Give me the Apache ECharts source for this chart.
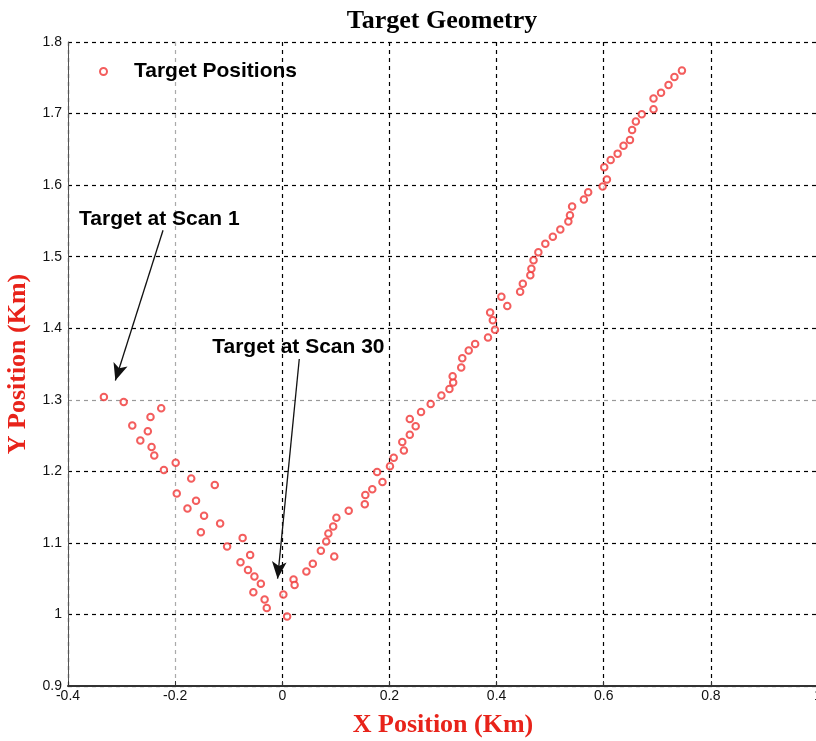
<!DOCTYPE html>
<html>
<head>
<meta charset="utf-8">
<script src="https://cdn.jsdelivr.net/npm/echarts@6/dist/echarts.min.js"></script>
<style>
  html, body { margin: 0; padding: 0; background: #fff; }
  #chart { width: 816px; height: 741px; }
</style>
</head>
<body>
<div id="chart"></div>
<script>
// Target track, X positions (Km)
const targetX = [
  -0.333, -0.296, -0.226, -0.246, -0.280, -0.251, -0.265, -0.244, -0.239, -0.221,
  -0.199, -0.170, -0.126, -0.197, -0.161, -0.177, -0.146, -0.116, -0.152, -0.074,
  -0.103, -0.060, -0.078, -0.064, -0.052, -0.040, -0.054, -0.033, -0.029, 0.009,
  0.002, 0.021, 0.023,
  0.045, 0.057, 0.072, 0.097, 0.082, 0.086, 0.095, 0.101, 0.124, 0.154,
  0.155, 0.168, 0.187, 0.177, 0.201, 0.208, 0.227, 0.224, 0.238, 0.249,
  0.238, 0.259, 0.277, 0.297, 0.312, 0.319,
  0.318, 0.334, 0.336, 0.348, 0.360, 0.384, 0.397, 0.393, 0.388, 0.420,
  0.409, 0.444, 0.449, 0.463, 0.465, 0.469, 0.478, 0.491, 0.505, 0.519,
  0.534, 0.537, 0.541, 0.563, 0.571, 0.598, 0.606,
  0.601, 0.613, 0.626, 0.637, 0.649, 0.653, 0.660, 0.671, 0.693, 0.693,
  0.707, 0.721, 0.732, 0.746
];
// Target track, Y positions (Km)
const targetY = [
  1.304, 1.297, 1.288, 1.276, 1.264, 1.256, 1.243, 1.234, 1.222, 1.202,
  1.212, 1.190, 1.181, 1.169, 1.159, 1.148, 1.138, 1.127, 1.115, 1.107,
  1.095, 1.083, 1.073, 1.062, 1.053, 1.043, 1.031, 1.021, 1.009, 0.997,
  1.028, 1.049, 1.041,
  1.060, 1.071, 1.089, 1.081, 1.102, 1.113, 1.123, 1.135, 1.145, 1.154,
  1.167, 1.175, 1.185, 1.199, 1.207, 1.219, 1.229, 1.241, 1.251, 1.263,
  1.273, 1.283, 1.294, 1.306, 1.315, 1.324,
  1.333, 1.345, 1.358, 1.369, 1.378, 1.387, 1.398, 1.411, 1.422, 1.431,
  1.444, 1.451, 1.462, 1.474, 1.483, 1.495, 1.506, 1.518, 1.528, 1.538,
  1.549, 1.558, 1.570, 1.580, 1.590, 1.598, 1.608,
  1.625, 1.635, 1.644, 1.655, 1.663, 1.677, 1.689, 1.699, 1.706, 1.721,
  1.729, 1.740, 1.751, 1.760
];

// Axis ranges and tick spacing
const xRange = [-0.4, 1.0, 0.2];
const yRange = [0.9, 1.8, 0.1];

// Callouts: label anchor and arrow start/tip, in data units
const callouts = [
  { text: 'Target at Scan 1',  label: [-0.2295, 1.553], from: [-0.2226, 1.537], to: [-0.3116, 1.327] },
  { text: 'Target at Scan 30', label: [0.030, 1.373],   from: [0.0317, 1.357],  to: [-0.0088, 1.050] }
];

const points = targetX.map((x, i) => [x, targetY[i]]);

const chart = echarts.init(document.getElementById('chart'), null, { renderer: 'canvas' });

const serif = '"Liberation Serif", "Times New Roman", serif';
const sans = '"Liberation Sans", Arial, sans-serif';
const tickFont = { fontFamily: '"Liberation Sans Narrow", "Liberation Sans", Arial, sans-serif', fontSize: 14, color: '#111' };

chart.setOption({
  animation: false,
  backgroundColor: '#fff',
  title: {
    text: 'Target Geometry',
    left: 437, top: 3, textAlign: 'center',
    textStyle: { fontFamily: serif, fontWeight: 'bold', fontSize: 26, color: '#000' }
  },
  legend: {
    data: ['Target Positions'],
    left: 94, top: 56,
    itemWidth: 7, itemHeight: 7,
    textStyle: { fontFamily: sans, fontWeight: 'bold', fontSize: 21, color: '#000', padding: [0, 0, 0, 22] }
  },
  grid: { left: 68, top: 42, right: -2, bottom: 55, containLabel: false, outerBoundsMode: 'none' },
  xAxis: {
    type: 'value', min: xRange[0], max: xRange[1], interval: xRange[2],
    name: 'X Position (Km)', nameLocation: 'middle', nameGap: 26,
    nameTextStyle: { fontFamily: serif, fontWeight: 'bold', fontSize: 26, color: '#e8231a' },
    axisLine: { onZero: false, lineStyle: { color: '#333', width: 2 } },
    axisTick: { inside: true, length: 5, lineStyle: { color: '#333' } },
    axisLabel: Object.assign({ margin: 3, formatter: v => String(+v.toFixed(1)) }, tickFont),
    splitLine: { show: true, lineStyle: { type: [4, 4], width: 1.2, color: ['#000', '#aaa', '#000', '#000', '#000', '#000', '#000', '#000'] } }
  },
  yAxis: {
    type: 'value', min: yRange[0], max: yRange[1], interval: yRange[2],
    name: 'Y Position (Km)', nameLocation: 'middle', nameGap: 33,
    nameTextStyle: { fontFamily: serif, fontWeight: 'bold', fontSize: 26, color: '#e8231a' },
    axisLine: { show: true, onZero: false, lineStyle: { color: '#555', width: 1 } },
    axisTick: { show: false },
    axisLabel: Object.assign({ margin: 6, formatter: v => String(+v.toFixed(1)) }, tickFont),
    splitLine: { show: true, lineStyle: { type: [4, 4], width: 1.2, color: ['#000', '#000', '#000', '#000', '#999', '#000', '#000', '#000', '#000', '#000'] } }
  },
  series: [{
    name: 'Target Positions',
    type: 'scatter',
    symbol: 'emptyCircle',
    symbolSize: 6.5,
    itemStyle: { color: '#f03434', borderColor: '#f03434', borderWidth: 1.2 },
    data: points,
    markLine: {
      silent: true,
      symbol: ['none', 'arrow'],
      symbolSize: [11, 17],
      lineStyle: { color: '#111', width: 1.3, type: 'solid' },
      label: { show: false },
      data: callouts.map(c => [{ coord: c.from }, { coord: c.to }])
    },
    markPoint: {
      silent: true,
      symbol: 'circle', symbolSize: 1,
      itemStyle: { color: 'rgba(0,0,0,0)' },
      label: {
        show: true, position: 'inside', formatter: p => p.name,
        fontFamily: sans, fontWeight: 'bold', fontSize: 21, color: '#000'
      },
      data: callouts.map(c => ({ name: c.text, coord: c.label }))
    }
  }]
});
</script>
</body>
</html>
